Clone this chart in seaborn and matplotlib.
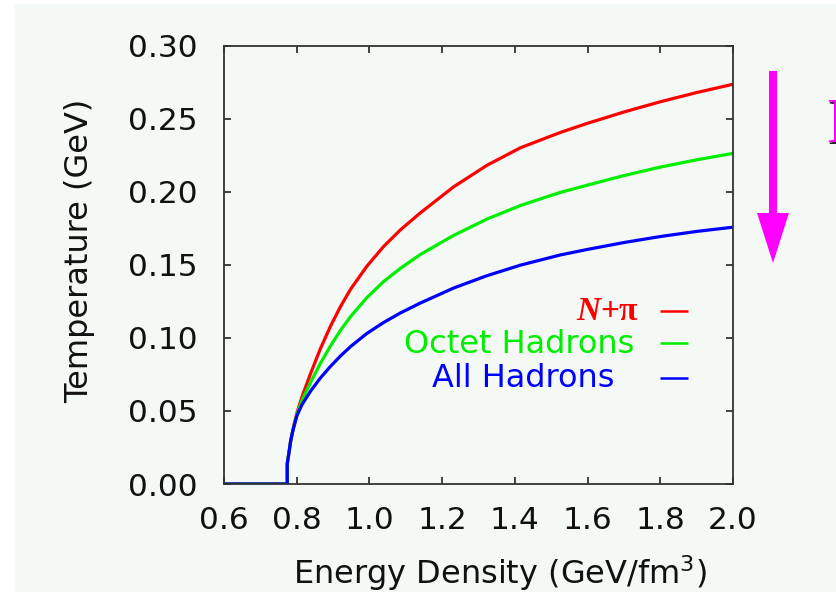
import matplotlib
matplotlib.use("Agg")
import matplotlib.pyplot as plt
import matplotlib.patches as mpatches
import pandas as pd
import seaborn as sns

# Energy density (GeV/fm^3) sampled along the curves
energy = [0.60, 0.774, 0.774, 0.779, 0.783, 0.788, 0.792, 0.801, 0.815, 0.838,
          0.865, 0.893, 0.920, 0.948, 0.993, 1.039, 1.085, 1.140, 1.231, 1.323,
          1.415, 1.525, 1.600, 1.700, 1.800, 1.900, 2.000]

# Temperature (GeV) for each hadron content
temp_n_pi = [0.0, 0.0, 0.014, 0.022, 0.029, 0.035, 0.040, 0.049, 0.060, 0.0755,
             0.0925, 0.1080, 0.1212, 0.1332, 0.1490, 0.1625, 0.1738, 0.1855, 0.2032, 0.2180,
             0.2300, 0.2405, 0.2468, 0.2545, 0.2615, 0.2678, 0.2735]
temp_octet = [0.0, 0.0, 0.014, 0.022, 0.029, 0.035, 0.039, 0.048, 0.0575, 0.0695,
              0.0825, 0.0945, 0.1050, 0.1145, 0.1275, 0.1385, 0.1475, 0.1570, 0.1700, 0.1812,
              0.1905, 0.1995, 0.2045, 0.2110, 0.2168, 0.2218, 0.2262]
temp_all = [0.0, 0.0, 0.014, 0.022, 0.029, 0.035, 0.039, 0.047, 0.0545, 0.0635,
            0.0725, 0.0805, 0.0875, 0.0940, 0.1030, 0.1105, 0.1170, 0.1238, 0.1340, 0.1425,
            0.1497, 0.1567, 0.1605, 0.1652, 0.1693, 0.1728, 0.1757]

series_names = ["N+π", "Octet Hadrons", "All Hadrons"]
series_colors = ["#ff0000", "#00ee00", "#0000ff"]

x_ticks = [0.6, 0.8, 1.0, 1.2, 1.4, 1.6, 1.8, 2.0]
y_ticks = [0.00, 0.05, 0.10, 0.15, 0.20, 0.25, 0.30]

W, H = 837, 592
BG = "#f4f9f5"

sns.set_style("ticks")
plt.rcParams["font.family"] = ["DejaVu Sans"]

df = pd.concat([
    pd.DataFrame({"energy": energy, "temp": t, "set": name})
    for t, name in zip([temp_n_pi, temp_octet, temp_all], series_names)
], ignore_index=True)

fig = plt.figure(figsize=(W / 100, H / 100), dpi=100, facecolor=BG)


def fx(px):
    return px / W


def fy(py):
    return 1 - py / H


ax = fig.add_axes([fx(224), fy(484), fx(733) - fx(224), fy(45.5) - fy(484)])
ax.set_facecolor(BG)

sns.lineplot(data=df, x="energy", y="temp", hue="set", hue_order=series_names,
             palette=dict(zip(series_names, series_colors)), estimator=None,
             sort=False, linewidth=2.3, legend=False, ax=ax)
for line in ax.lines:
    line.set_solid_joinstyle("round")

ax.set_xlim(0.6, 2.0)
ax.set_ylim(0.0, 0.30)
ax.set_xticks(x_ticks)
ax.set_xticklabels([f"{v:.1f}" for v in x_ticks])
ax.set_yticks(y_ticks)
ax.set_yticklabels([f"{v:.2f}" for v in y_ticks])
ax.set_xlabel("")
ax.set_ylabel("")
ax.tick_params(direction="in", length=5, width=1.2, color="#222222",
               labelsize=22.5, labelcolor="#111111", top=True, right=True)
ax.tick_params(axis="x", pad=16)
ax.tick_params(axis="y", pad=19)
for sp in ax.spines.values():
    sp.set_visible(True)
    sp.set_color("#333333")
    sp.set_linewidth(1.3)

# axis titles
fig.text(fx(500), fy(584), "Energy Density (GeV/fm$^3$)", ha="center", va="baseline",
         fontsize=23, color="#111111")
fig.text(fx(80), fy(251), "Temperature (GeV)", ha="center", va="center",
         rotation=90, fontsize=23, color="#111111")

# key: labels right-aligned, short line samples to the right
key_x0, key_x1 = 1.799, 1.876
key_rows = [0.1187, 0.0964, 0.0728]
for y, c in zip(key_rows, series_colors):
    ax.plot([key_x0, key_x1], [y, y], color=c, linewidth=1.8, solid_capstyle="butt")

ax.text(1.730, 0.0894, "Octet Hadrons", ha="right", va="baseline",
        fontsize=23, color=series_colors[1])
ax.text(1.675, 0.0664, "All Hadrons", ha="right", va="baseline",
        fontsize=23, color=series_colors[2])
plus_pi = ax.text(1.738, 0.1123, "+π", ha="right", va="baseline", fontsize=24,
                  family="Liberation Serif", weight="bold", color=series_colors[0])
fig.canvas.draw()
bb = plus_pi.get_window_extent(fig.canvas.get_renderer())
x_left = ax.transData.inverted().transform((bb.x0, bb.y0))[0]
ax.text(x_left, 0.1123, "N", ha="right", va="baseline", fontsize=24,
        family="Liberation Serif", weight="bold", style="italic", color=series_colors[0])

# downward magenta arrow on the right
shaft_l, shaft_r = 769, 777
head_l, head_r = 757, 789
top, head_y, tip = 71, 213, 263
arrow_pts = [(shaft_l, top), (shaft_r, top), (shaft_r, head_y), (head_r, head_y),
             ((head_l + head_r) / 2, tip), (head_l, head_y), (shaft_l, head_y)]
fig.patches.append(mpatches.Polygon([(fx(x), fy(y)) for x, y in arrow_pts],
                                    closed=True, transform=fig.transFigure,
                                    facecolor="#ff00ff", edgecolor="none"))

# caption letter running off the right edge
fig.text(fx(827.5), fy(143.5), "D", ha="left", va="baseline", fontsize=45,
         family="Liberation Serif", color="#222222")
fig.text(fx(826), fy(142), "D", ha="left", va="baseline", fontsize=45,
         family="Liberation Serif", color="#ff00ff")

# thin white margin along the top and left edges
fig.patches.append(mpatches.Rectangle((0, fy(4)), 1, 1 - fy(4), transform=fig.transFigure,
                                      facecolor="white", edgecolor="none"))
fig.patches.append(mpatches.Rectangle((0, 0), fx(15), 1, transform=fig.transFigure,
                                      facecolor="white", edgecolor="none"))

fig.savefig("out.png", dpi=100, facecolor=BG)
